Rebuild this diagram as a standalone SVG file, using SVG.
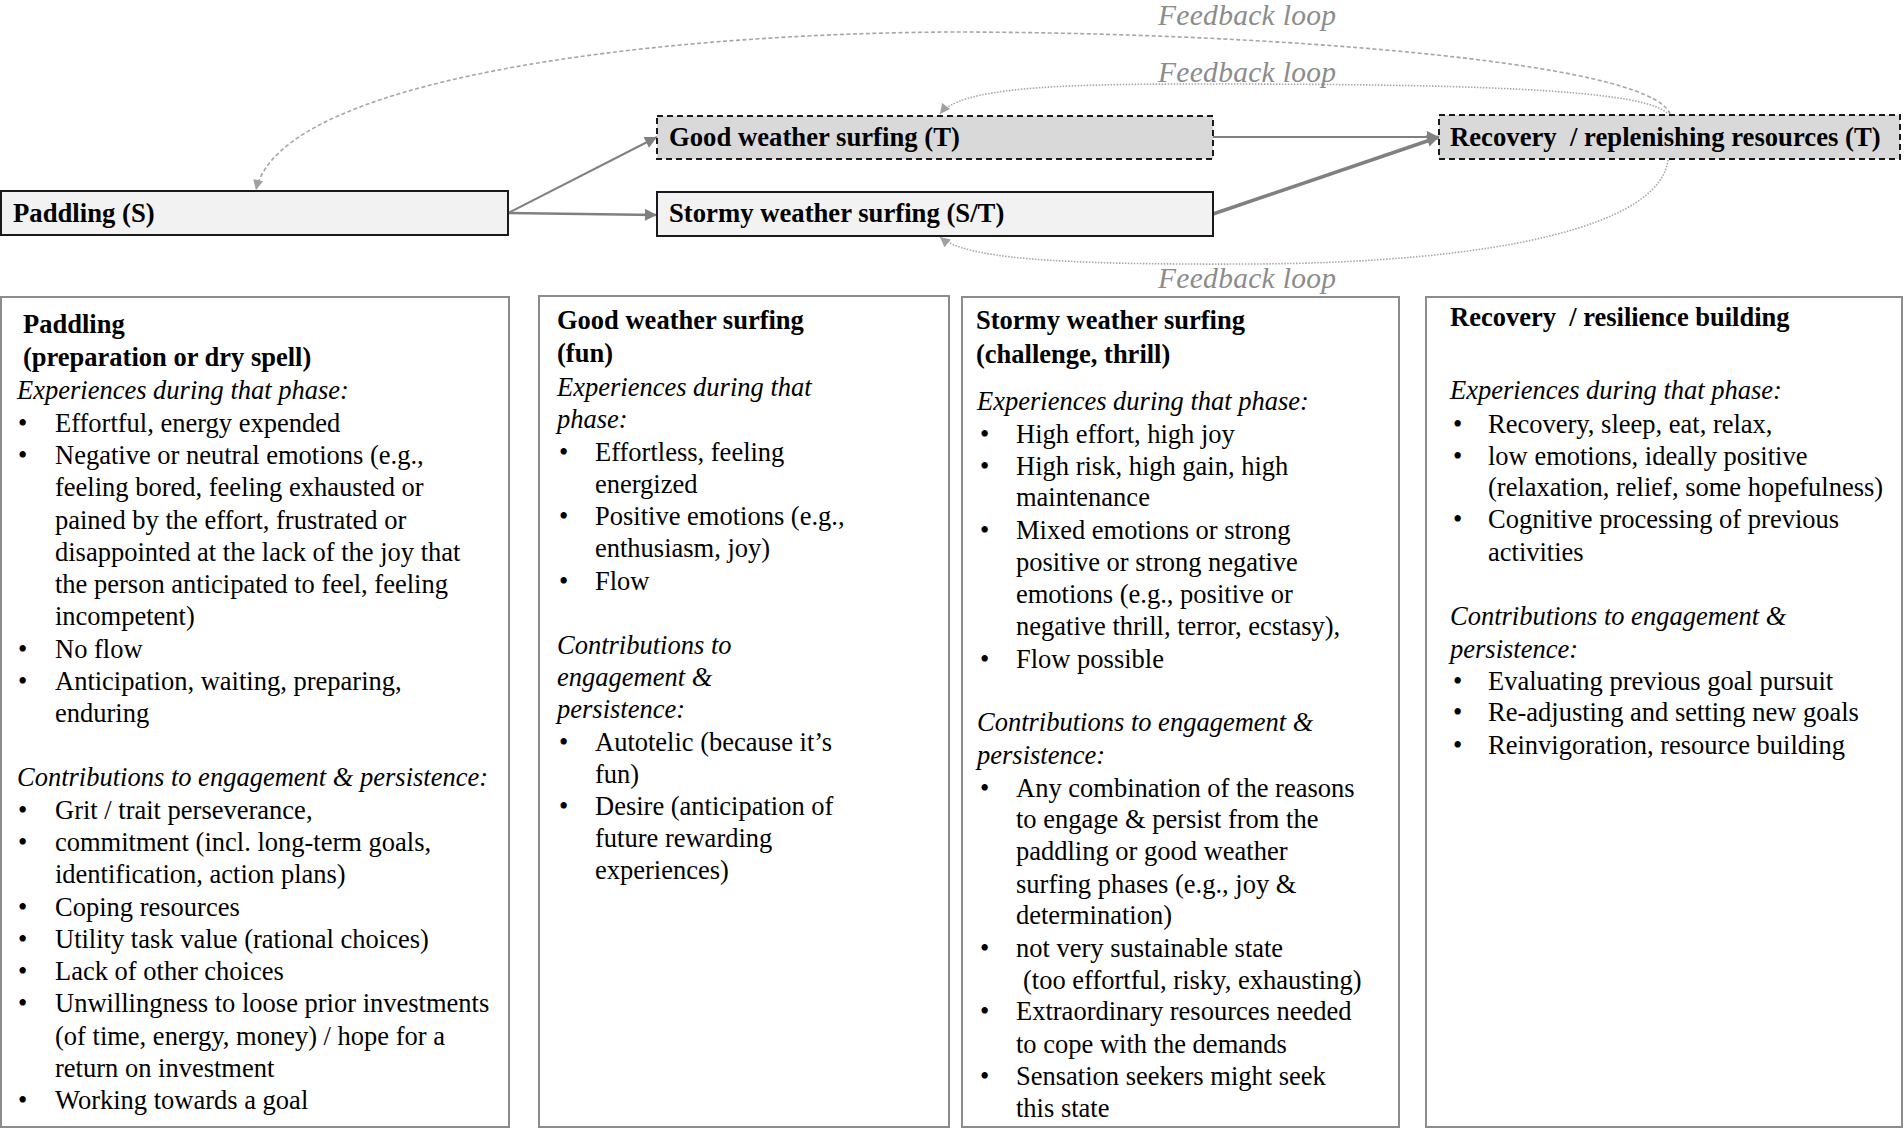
<svg xmlns="http://www.w3.org/2000/svg" width="1904" height="1129" viewBox="0 0 1904 1129">
<defs>
<style>
.lbl{font-family:"Liberation Serif","Times New Roman",serif;font-weight:bold;font-size:26.7px;fill:#000}
.hd{font-family:"Liberation Serif","Times New Roman",serif;font-weight:bold;font-size:26.5px;fill:#000}
.it{font-family:"Liberation Serif","Times New Roman",serif;font-style:italic;font-size:26.5px;fill:#000}
.tx{font-family:"Liberation Serif","Times New Roman",serif;font-size:26.5px;fill:#000}
.fb{font-family:"Liberation Serif","Times New Roman",serif;font-style:italic;font-size:29.5px;fill:#8c8c8c}
.solid{fill:#f2f2f2;stroke:#1a1a1a;stroke-width:2}
.dash{fill:#d9d9d9;stroke:#1a1a1a;stroke-width:2;stroke-dasharray:6 4}
.panel{fill:#fff;stroke:#8c8c8c;stroke-width:2}
.arr{fill:none;stroke:#808080}
.loopd{fill:none;stroke:#a6a6a6;stroke-width:1.6;stroke-dasharray:4 2.5}
.loopo{fill:none;stroke:#a6a6a6;stroke-width:1.6;stroke-dasharray:1.5 1.5}
</style>
<marker id="ah" viewBox="0 0 10 10" refX="10" refY="5" markerWidth="14" markerHeight="12" markerUnits="userSpaceOnUse" orient="auto"><path d="M0,0 L10,5 L0,10 z" fill="#808080"/></marker>
<marker id="ahf" viewBox="0 0 10 10" refX="10" refY="5" markerWidth="13" markerHeight="10" markerUnits="userSpaceOnUse" orient="auto"><path d="M0,0 L10,5 L0,10 z" fill="#a0a0a0"/></marker>
</defs>
<rect width="1904" height="1129" fill="#fff"/>

<g id="connectors">
<line class="arr" x1="508" y1="213" x2="657" y2="137" stroke-width="2" marker-end="url(#ah)"/>
<line class="arr" x1="508" y1="213" x2="657" y2="215" stroke-width="2.5" marker-end="url(#ah)"/>
<line class="arr" x1="1213" y1="137" x2="1439" y2="137" stroke-width="2" marker-end="url(#ah)"/>
<line class="arr" x1="1213" y1="214" x2="1439" y2="137" stroke-width="3.5" marker-end="url(#ah)"/>
<path class="loopd" d="M1670,114 C1650,60 1250,32 950,32 C640,34 280,80 256,190" marker-end="url(#ahf)"/>
<path class="loopo" d="M1667,113 C1640,88 1450,84 1200,84 C1050,84 960,88 940,114" marker-end="url(#ahf)"/>
<path class="loopo" d="M1668,160 C1660,225 1500,263 1250,264 C1050,265 965,258 940,237" marker-end="url(#ahf)"/>
<text class="fb" x="1158" y="25" textLength="178" lengthAdjust="spacing">Feedback loop</text>
<text class="fb" x="1158" y="82" textLength="178" lengthAdjust="spacing">Feedback loop</text>
<text class="fb" x="1158" y="288" textLength="178" lengthAdjust="spacing">Feedback loop</text>
</g>

<g id="node-paddling">
<rect class="solid" x="1" y="191" width="507" height="44"/>
<text class="lbl" x="13" y="222">Paddling (S)</text>
</g>
<g id="node-good">
<rect class="dash" x="657" y="116" width="556" height="43"/>
<text class="lbl" x="669" y="146">Good weather surfing (T)</text>
</g>
<g id="node-stormy">
<rect class="solid" x="657" y="192" width="556" height="44"/>
<text class="lbl" x="669" y="222">Stormy weather surfing (S/T)</text>
</g>
<g id="node-recovery">
<rect class="dash" x="1439" y="115" width="461" height="44"/>
<text class="lbl" x="1450" y="146" xml:space="preserve">Recovery  / replenishing resources (T)</text>
</g>

<g id="panel-paddling">
<rect class="panel" x="1" y="297" width="508" height="830"/>
<text class="hd" x="23" y="333">Paddling</text>
<text class="hd" x="23" y="366">(preparation or dry spell)</text>
<text class="it" x="17" y="399">Experiences during that phase:</text>
<g class="tx">
<text x="18" y="432">•</text><text x="55" y="432">Effortful, energy expended</text>
<text x="18" y="464">•</text><text x="55" y="464">Negative or neutral emotions (e.g.,</text>
<text x="55" y="496">feeling bored, feeling exhausted or</text>
<text x="55" y="529">pained by the effort, frustrated or</text>
<text x="55" y="561">disappointed at the lack of the joy that</text>
<text x="55" y="593">the person anticipated to feel, feeling</text>
<text x="55" y="625">incompetent)</text>
<text x="18" y="658">•</text><text x="55" y="658">No flow</text>
<text x="18" y="690">•</text><text x="55" y="690">Anticipation, waiting, preparing,</text>
<text x="55" y="722">enduring</text>
</g>
<text class="it" x="17" y="786">Contributions to engagement &amp; persistence:</text>
<g class="tx">
<text x="18" y="819">•</text><text x="55" y="819">Grit / trait perseverance,</text>
<text x="18" y="851">•</text><text x="55" y="851">commitment (incl. long-term goals,</text>
<text x="55" y="883">identification, action plans)</text>
<text x="18" y="916">•</text><text x="55" y="916">Coping resources</text>
<text x="18" y="948">•</text><text x="55" y="948">Utility task value (rational choices)</text>
<text x="18" y="980">•</text><text x="55" y="980">Lack of other choices</text>
<text x="18" y="1012">•</text><text x="55" y="1012">Unwillingness to loose prior investments</text>
<text x="55" y="1045">(of time, energy, money) / hope for a</text>
<text x="55" y="1077">return on investment</text>
<text x="18" y="1109">•</text><text x="55" y="1109">Working towards a goal</text>
</g>
</g>

<g id="panel-good">
<rect class="panel" x="539" y="296" width="410" height="831"/>
<text class="hd" x="557" y="329">Good weather surfing</text>
<text class="hd" x="557" y="362">(fun)</text>
<text class="it" x="557" y="396">Experiences during that</text>
<text class="it" x="557" y="428">phase:</text>
<g class="tx">
<text x="559" y="461">•</text><text x="595" y="461">Effortless, feeling</text>
<text x="595" y="493">energized</text>
<text x="559" y="525">•</text><text x="595" y="525">Positive emotions (e.g.,</text>
<text x="595" y="557">enthusiasm, joy)</text>
<text x="559" y="590">•</text><text x="595" y="590">Flow</text>
</g>
<text class="it" x="557" y="654">Contributions to</text>
<text class="it" x="557" y="686">engagement &amp;</text>
<text class="it" x="557" y="718">persistence:</text>
<g class="tx">
<text x="559" y="751">•</text><text x="595" y="751">Autotelic (because it’s</text>
<text x="595" y="783">fun)</text>
<text x="559" y="815">•</text><text x="595" y="815">Desire (anticipation of</text>
<text x="595" y="847">future rewarding</text>
<text x="595" y="879">experiences)</text>
</g>
</g>

<g id="panel-stormy">
<rect class="panel" x="962" y="297" width="437" height="830"/>
<text class="hd" x="976" y="329">Stormy weather surfing</text>
<text class="hd" x="976" y="363">(challenge, thrill)</text>
<text class="it" x="977" y="410">Experiences during that phase:</text>
<g class="tx">
<text x="980" y="443">•</text><text x="1016" y="443">High effort, high joy</text>
<text x="980" y="475">•</text><text x="1016" y="475">High risk, high gain, high</text>
<text x="1016" y="506">maintenance</text>
<text x="980" y="539">•</text><text x="1016" y="539">Mixed emotions or strong</text>
<text x="1016" y="571">positive or strong negative</text>
<text x="1016" y="603">emotions (e.g., positive or</text>
<text x="1016" y="635">negative thrill, terror, ecstasy),</text>
<text x="980" y="668">•</text><text x="1016" y="668">Flow possible</text>
</g>
<text class="it" x="977" y="731">Contributions to engagement &amp;</text>
<text class="it" x="977" y="764">persistence:</text>
<g class="tx">
<text x="980" y="797">•</text><text x="1016" y="797">Any combination of the reasons</text>
<text x="1016" y="828">to engage &amp; persist from the</text>
<text x="1016" y="860">paddling or good weather</text>
<text x="1016" y="893">surfing phases (e.g., joy &amp;</text>
<text x="1016" y="924">determination)</text>
<text x="980" y="957">•</text><text x="1016" y="957">not very sustainable state</text>
<text x="1023" y="989">(too effortful, risky, exhausting)</text>
<text x="980" y="1020">•</text><text x="1016" y="1020">Extraordinary resources needed</text>
<text x="1016" y="1053">to cope with the demands</text>
<text x="980" y="1085">•</text><text x="1016" y="1085">Sensation seekers might seek</text>
<text x="1016" y="1117">this state</text>
</g>
</g>

<g id="panel-recovery">
<rect class="panel" x="1426" y="297" width="476" height="830"/>
<text class="hd" x="1450" y="326" xml:space="preserve">Recovery  / resilience building</text>
<text class="it" x="1450" y="399">Experiences during that phase:</text>
<g class="tx">
<text x="1453" y="433">•</text><text x="1488" y="433">Recovery, sleep, eat, relax,</text>
<text x="1453" y="465">•</text><text x="1488" y="465">low emotions, ideally positive</text>
<text x="1488" y="496">(relaxation, relief, some hopefulness)</text>
<text x="1453" y="528">•</text><text x="1488" y="528">Cognitive processing of previous</text>
<text x="1488" y="561">activities</text>
</g>
<text class="it" x="1450" y="625">Contributions to engagement &amp;</text>
<text class="it" x="1450" y="658">persistence:</text>
<g class="tx">
<text x="1453" y="690">•</text><text x="1488" y="690">Evaluating previous goal pursuit</text>
<text x="1453" y="721">•</text><text x="1488" y="721">Re-adjusting and setting new goals</text>
<text x="1453" y="754">•</text><text x="1488" y="754">Reinvigoration, resource building</text>
</g>
</g>
</svg>
